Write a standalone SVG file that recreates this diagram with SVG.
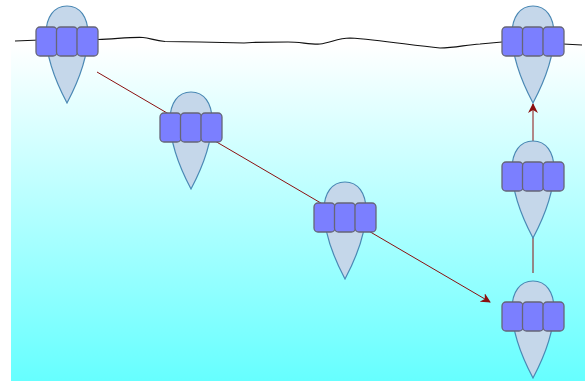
<svg xmlns="http://www.w3.org/2000/svg" width="585" height="381" viewBox="0 0 585 381">
  <defs>
    <linearGradient id="water" x1="0" y1="0" x2="0" y2="1">
      <stop offset="0" stop-color="#ffffff"/>
      <stop offset="1" stop-color="#66ffff"/>
    </linearGradient>
    <marker id="arrow" viewBox="0 0 10 10" refX="9" refY="5" markerWidth="10" markerHeight="10" markerUnits="userSpaceOnUse" orient="auto">
      <path d="M0,0 L10,5 L0,10 L3,5 Z" fill="#8b1010"/>
    </marker>
    <!-- one float: teardrop body with a belt of three buoyancy cells -->
    <g id="float">
      <path class="body" d="M0,0 C13,0 21,11 21,28 C21,52 9,80 0,97 C-9,80 -21,52 -21,28 C-21,11 -13,0 0,0 Z"/>
      <rect class="cell" x="-31" y="21" width="21" height="29" rx="4"/>
      <rect class="cell" x="-10.5" y="21" width="21" height="29" rx="4"/>
      <rect class="cell" x="10" y="21" width="21" height="29" rx="4"/>
    </g>
  </defs>
  <style>
    .body { fill: #c5d7ea; stroke: #4a88b4; stroke-width: 1.2; }
    .cell { fill: #7b7fff; stroke: #666677; stroke-width: 1.3; }
    .link { fill: none; stroke: #8b1010; stroke-width: 1; marker-end: url(#arrow); }
    .surface { fill: none; stroke: #111; stroke-width: 1.2; }
  </style>

  <rect x="0" y="0" width="585" height="381" fill="#ffffff"/>
  <rect x="11" y="45" width="574" height="336" fill="url(#water)"/>

  <!-- sea surface -->
  <path class="surface" d="M15,41 L40,40 L98,39.5 C115,39 130,37 143,37.5 C150,38 155,41 165,41.5 L200,42 L244,43 L252,42.5 L288,42 C300,42 310,44.5 320,44 C330,43 338,38 350,38 C380,40 410,45 440,48 C455,48 465,45 480,44 L502,42 M563,44 L582,45"/>

  <g id="connectors">
    <line class="link" x1="97" y1="72" x2="490" y2="302"/>
    <line class="link" x1="533" y1="273" x2="533" y2="104"/>
  </g>

  <g id="float-1"><use href="#float" x="67" y="6"/></g>
  <g id="float-2"><use href="#float" x="191" y="92"/></g>
  <g id="float-3"><use href="#float" x="345" y="182"/></g>
  <g id="float-4"><use href="#float" x="533" y="281"/></g>
  <g id="float-5"><use href="#float" x="533" y="141"/></g>
  <g id="float-6"><use href="#float" x="533" y="6"/></g>
</svg>
